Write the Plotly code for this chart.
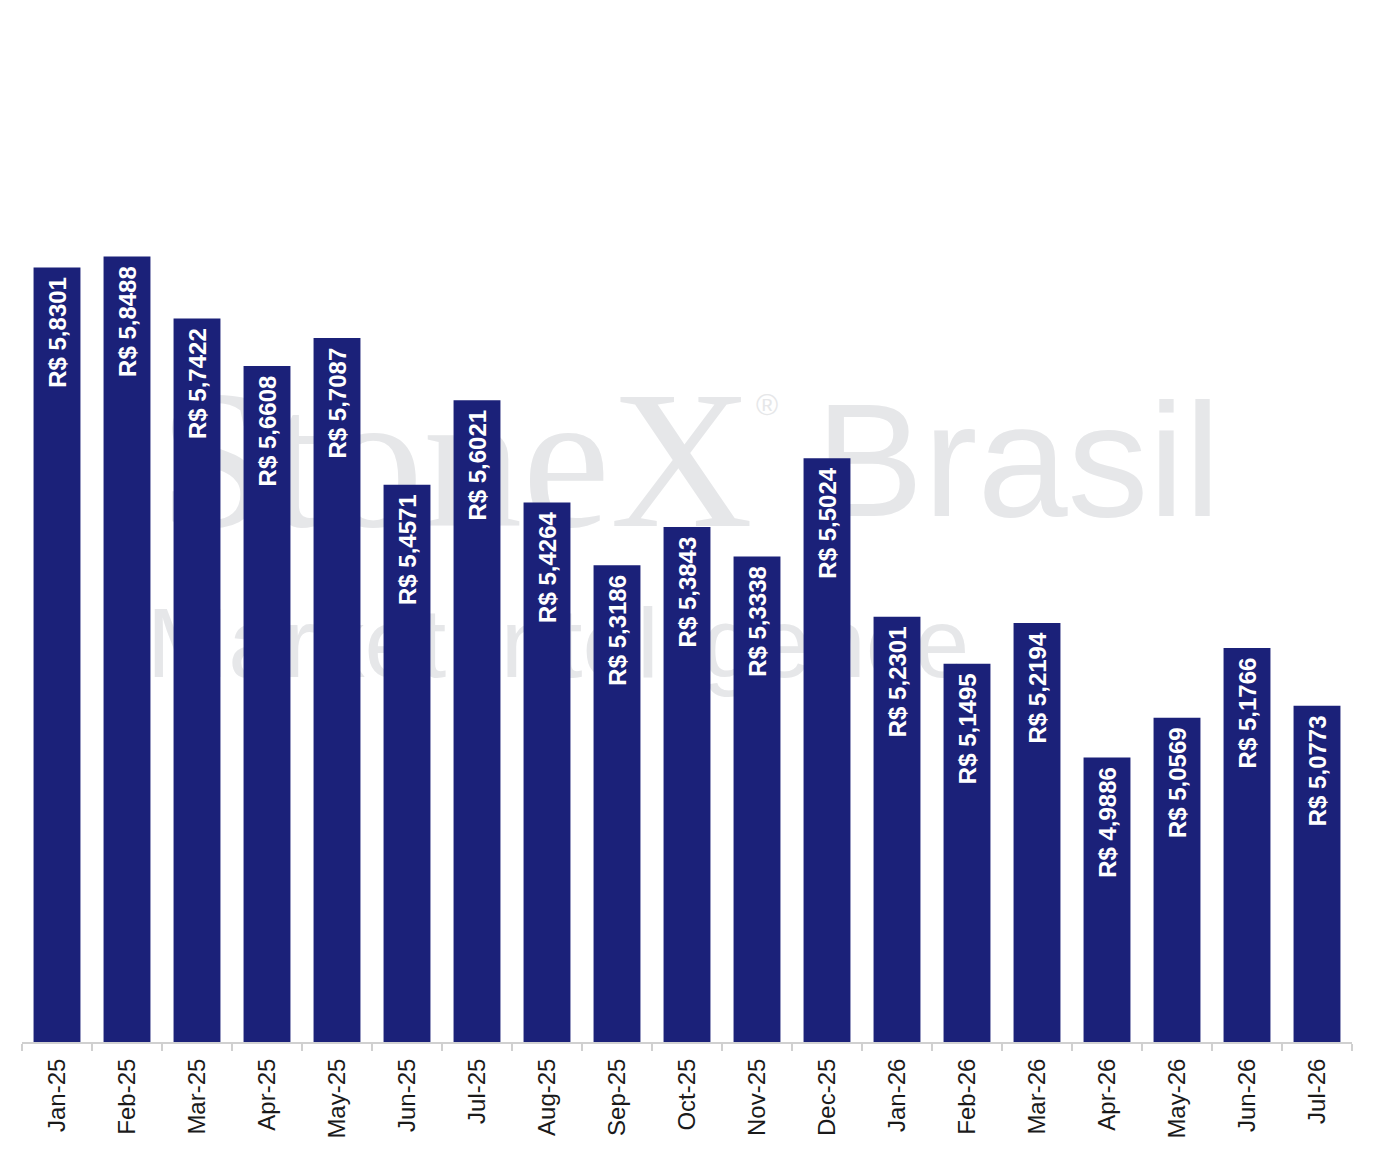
import plotly.graph_objects as go

months = ["Jan-25", "Feb-25", "Mar-25", "Apr-25", "May-25", "Jun-25", "Jul-25",
          "Aug-25", "Sep-25", "Oct-25", "Nov-25", "Dec-25", "Jan-26", "Feb-26",
          "Mar-26", "Apr-26", "May-26", "Jun-26", "Jul-26"]
prices = [5.8301, 5.8488, 5.7422, 5.6608, 5.7087, 5.4571, 5.6021,
          5.4264, 5.3186, 5.3843, 5.3338, 5.5024, 5.2301, 5.1495,
          5.2194, 4.9886, 5.0569, 5.1766, 5.0773]

OFF = 8  # page body margin
W, H = 1374 - OFF, 1155 - OFF
L, R, T, B = 22 - OFF, 22, 52 - OFF, 113
PW, PH = W - L - R, H - T - B


def px(x):
    # page pixel x -> paper
    return (x - OFF - L) / PW


def py(y):
    # page pixel y -> paper
    return (H - B - (y - OFF)) / PH


fig = go.Figure()
fig.add_trace(go.Bar(
    x=months, y=prices,
    marker=dict(color="#1B2179", line=dict(width=0)),
    texttemplate="R$ %{y:.4f}\u00a0",
    textposition="inside",
    insidetextanchor="end",
    textangle=-90,
    insidetextfont=dict(color="white", size=24, family="Liberation Sans", weight="bold"),
    hoverinfo="skip",
))

wm_color = "#e6e7e9"
watermark = [
    # text, center x, cap-center y (page px), font family, size
    ("StoneX", 456, 461, "Liberation Serif", 198),
    ("®", 767, 405, "Liberation Sans", 30),
    ("Brasil", 1018, 464, "Liberation Sans", 162),
    ("Market Intelligence", 558, 646, "Liberation Sans", 98),
]
shapes = []
for txt, cx, cy, fam, size in watermark:
    cy = cy - 0.12 * size
    half = 20
    shapes.append(dict(
        type="rect", xref="paper", yref="paper", layer="below",
        x0=px(cx - half), x1=px(cx + half), y0=py(cy + half), y1=py(cy - half),
        line=dict(width=0), fillcolor="rgba(0,0,0,0)",
        label=dict(text=txt, textposition="middle center",
                   font=dict(family=fam, size=size, color=wm_color)),
    ))

fig.update_layout(
    width=W, height=H,
    margin=dict(l=L, r=R, t=T, b=B),
    paper_bgcolor="white", plot_bgcolor="white",
    separators=",.",
    bargap=0.33,
    showlegend=False,
    shapes=shapes,
    xaxis=dict(
        type="category", tickangle=-90, tickson="boundaries",
        ticks="outside", ticklen=7, tickcolor="#d0d0d0", tickwidth=2,
        ticklabelstandoff=5,
        showline=True, linecolor="#d0d0d0", linewidth=2,
        showgrid=False, zeroline=False,
        tickfont=dict(family="Liberation Sans", size=24, color="#1a1a1a"),
    ),
    yaxis=dict(range=[4.5, 6.2], visible=False, showgrid=False, zeroline=False),
)

fig.write_html("out.html")
